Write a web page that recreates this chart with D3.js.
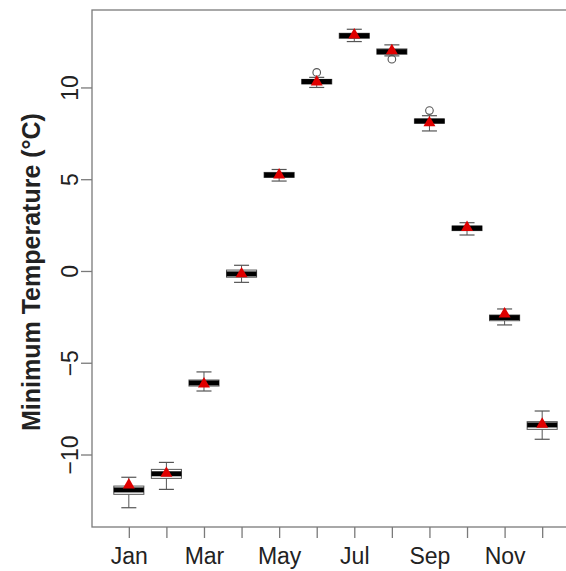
<!DOCTYPE html>
<html>
<head>
<meta charset="utf-8">
<script src="https://cdn.jsdelivr.net/npm/d3@7"></script>
<style>
  html, body { margin: 0; padding: 0; background: #fff; }
  svg { display: block; font-family: "Liberation Sans", Arial, sans-serif; }
</style>
</head>
<body>
<svg id="chart" width="566" height="571"></svg>
<script>
// ---- data ----
const months = ["Jan","Feb","Mar","Apr","May","Jun","Jul","Aug","Sep","Oct","Nov","Dec"];
const shownLabels = ["Jan","Mar","May","Jul","Sep","Nov"];
const whiskerLow  = [-12.90, -11.90, -6.54, -0.62, 4.90, 10.00, 12.50, 11.72, 7.63, 1.96, -2.94, -9.17];
const q1          = [-12.17, -11.30, -6.27, -0.34, 5.10, 10.19, 12.68, 11.81, 8.05, 2.20, -2.71, -8.63];
const median      = [-11.93, -11.05, -6.10, -0.16, 5.23, 10.32, 12.82, 11.95, 8.17, 2.33, -2.54, -8.39];
const q3          = [-11.72, -10.81, -5.94,  0.05, 5.37, 10.44, 12.95, 12.10, 8.28, 2.45, -2.40, -8.21];
const whiskerHigh = [-11.24, -10.43, -5.50,  0.31, 5.53, 10.55, 13.17, 12.32, 8.46, 2.63, -2.07, -7.63];
const means       = [-11.66, -11.03, -6.16, -0.16, 5.23, 10.30, 12.86, 12.00, 8.07, 2.37, -2.34, -8.35];
const outlierMonth = ["Jun", "Aug", "Sep"];
const outlierValue = [10.82, 11.54, 8.74];
const yTicks = [-10, -5, 0, 5, 10];
const yTitle = "Minimum Temperature (°C)";

// ---- layout ----
const svg = d3.select("#chart");
const mLeft = 92, mTop = 10, mBottom = 527, mRight = 579;
const x = d3.scaleLinear().domain([0.02, 12.98]).range([mLeft, mRight]);
const y = d3.scaleLinear().domain([-13.95, 14.22]).range([mBottom, mTop]);
const step = x(2) - x(1);
const boxW = step * 0.8;
const capW = boxW * 0.5;
const axisCol = "#7a7a7a";
const textCol = "#222";

const data = months.map((m, i) => ({
  m, i: i + 1, lo: whiskerLow[i], q1: q1[i], med: median[i], q3: q3[i], hi: whiskerHigh[i], mean: means[i]
}));

// plot frame
svg.append("rect")
  .attr("x", mLeft).attr("y", mTop)
  .attr("width", mRight - mLeft).attr("height", mBottom - mTop)
  .attr("fill", "none").attr("stroke", axisCol).attr("stroke-width", 1.3);

// boxes
const g = svg.append("g");
const bx = g.selectAll("g.box").data(data).join("g").attr("class", "box");
const boxStroke = "#555";
bx.append("line")
  .attr("x1", d => x(d.i)).attr("x2", d => x(d.i))
  .attr("y1", d => y(d.hi)).attr("y2", d => y(d.q3))
  .attr("stroke", boxStroke).attr("stroke-width", 1);
bx.append("line")
  .attr("x1", d => x(d.i)).attr("x2", d => x(d.i))
  .attr("y1", d => y(d.q1)).attr("y2", d => y(d.lo))
  .attr("stroke", boxStroke).attr("stroke-width", 1);
bx.append("line")
  .attr("x1", d => x(d.i) - capW / 2).attr("x2", d => x(d.i) + capW / 2)
  .attr("y1", d => y(d.hi)).attr("y2", d => y(d.hi))
  .attr("stroke", boxStroke).attr("stroke-width", 1.2);
bx.append("line")
  .attr("x1", d => x(d.i) - capW / 2).attr("x2", d => x(d.i) + capW / 2)
  .attr("y1", d => y(d.lo)).attr("y2", d => y(d.lo))
  .attr("stroke", boxStroke).attr("stroke-width", 1.2);
bx.append("rect")
  .attr("x", d => x(d.i) - boxW / 2).attr("width", boxW)
  .attr("y", d => y(d.q3)).attr("height", d => y(d.q1) - y(d.q3))
  .attr("fill", "#fff").attr("stroke", boxStroke).attr("stroke-width", 1);
bx.append("line")
  .attr("x1", d => x(d.i) - boxW / 2).attr("x2", d => x(d.i) + boxW / 2)
  .attr("y1", d => y(d.med)).attr("y2", d => y(d.med))
  .attr("stroke", "#000").attr("stroke-width", 5);

// outliers
svg.append("g").selectAll("circle")
  .data(outlierMonth.map((m, k) => ({ i: months.indexOf(m) + 1, v: outlierValue[k] })))
  .join("circle")
  .attr("cx", d => x(d.i)).attr("cy", d => y(d.v)).attr("r", 3.8)
  .attr("fill", "none").attr("stroke", "#555").attr("stroke-width", 1.1);

// means (red triangles)
const tri = d3.symbol().type(d3.symbolTriangle).size(62);
svg.append("g").selectAll("path")
  .data(data).join("path")
  .attr("d", tri)
  .attr("transform", d => `translate(${x(d.i)},${y(d.mean)})`)
  .attr("fill", "#e00000");

// x axis
const xAxis = d3.axisBottom(x)
  .tickValues(d3.range(1, 13))
  .tickSize(11).tickSizeOuter(0)
  .tickFormat(v => shownLabels.includes(months[v - 1]) ? months[v - 1] : "");
const gx = svg.append("g").attr("transform", `translate(0,${mBottom})`).call(xAxis);
gx.select(".domain").remove();
gx.selectAll(".tick line").attr("stroke", axisCol).attr("stroke-width", 1.3);
gx.selectAll(".tick text")
  .attr("fill", textCol).attr("font-size", 23)
  .attr("y", 21).attr("dy", "0.71em")
  .attr("font-family", "Liberation Sans, Arial, sans-serif");

// y axis
const yAxis = d3.axisLeft(y)
  .tickValues(yTicks).tickSize(11).tickSizeOuter(0)
  .tickFormat(v => v < 0 ? "\u2212" + Math.abs(v) : String(v));
const gy = svg.append("g").attr("transform", `translate(${mLeft},0)`).call(yAxis);
gy.select(".domain").remove();
gy.selectAll(".tick line").attr("stroke", axisCol).attr("stroke-width", 1.3);
gy.selectAll(".tick text")
  .attr("fill", textCol).attr("font-size", 23)
  .attr("x", null).attr("dy", null)
  .attr("text-anchor", "middle")
  .attr("transform", "translate(-14,0) rotate(-90)")
  .attr("font-family", "Liberation Sans, Arial, sans-serif");

// y title
svg.append("text")
  .attr("transform", `translate(40,272) rotate(-90)`)
  .attr("text-anchor", "middle")
  .attr("font-size", 25).attr("font-weight", "bold")
  .attr("fill", textCol)
  .text(yTitle);
</script>
</body>
</html>
